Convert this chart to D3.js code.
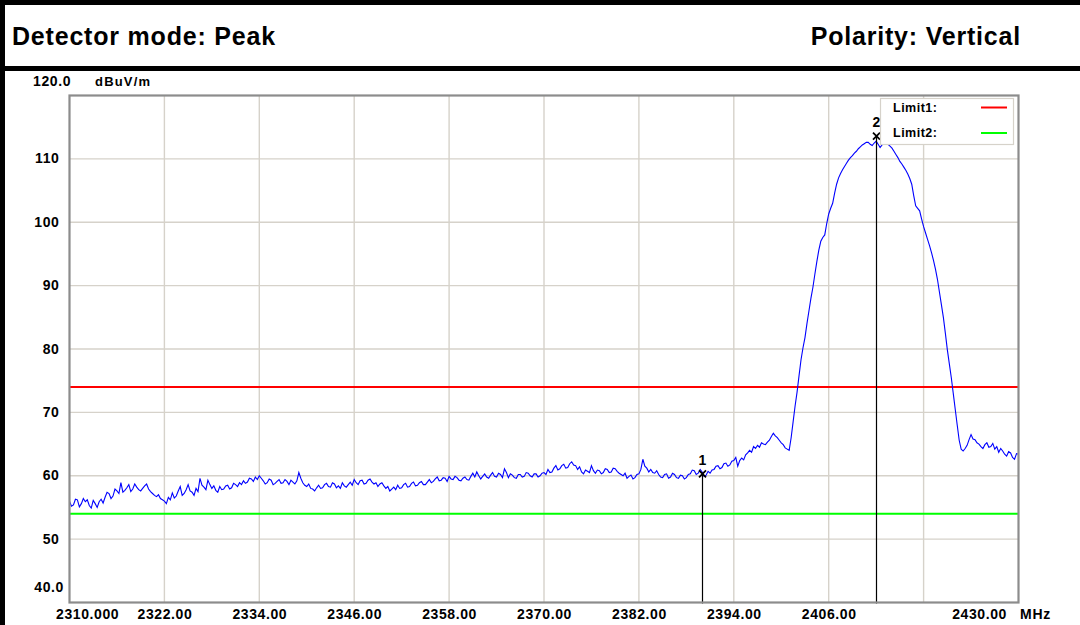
<!DOCTYPE html>
<html>
<head>
<meta charset="utf-8">
<script src="https://cdn.jsdelivr.net/npm/d3@7"></script>
<style>
  html, body { margin: 0; padding: 0; background: #fff; }
  svg { display: block; }
</style>
</head>
<body>
<script>
// ---------------- data ----------------
const headerLeft = "Detector mode: Peak";
const headerRight = "Polarity: Vertical";
const yUnit = "dBuV/m";
const xUnit = "MHz";

const freqStart = 2310;   // MHz
const freqStep = 0.25;    // MHz between trace points (one row = 1 MHz)
const levels = [
  56.0,55.2,55.4,56.3, 56.2,55.1,55.6,56.4, 55.9,56.2,55.3,54.9, 56.1,55.6,55.0,55.9, // 2310-2313
  56.3,55.7,56.6,57.4, 57.2,56.4,56.8,57.9, 57.6,57.2,58.9,57.4, 57.7,58.1,58.6,57.5, // 2314-2317
  57.9,58.7,58.2,57.8, 57.6,58.0,58.4,58.7, 57.9,57.5,57.2,56.9, 56.7,57.0,56.4,56.2, // 2318-2321
  56.0,55.6,56.6,56.2, 57.3,56.5,56.8,57.6, 58.3,56.9,57.2,57.8, 58.6,57.6,57.4,56.9, // 2322-2325
  58.0,57.5,59.6,58.5, 58.2,57.8,59.3,58.6, 58.0,58.4,57.7,57.4, 58.3,57.8,57.9,58.4, // 2326-2329
  58.5,57.9,58.1,58.8, 58.6,58.3,58.9,58.6, 59.2,58.8,59.0,59.6, 59.5,59.1,59.8,59.4, // 2330-2333
  60.0,59.6,59.2,58.7, 58.9,59.5,59.3,58.6, 58.8,59.1,59.4,58.8, 58.9,59.4,59.1,58.6, // 2334-2337
  59.3,59.0,58.7,59.2, 60.5,59.6,58.9,58.5, 58.3,58.7,58.0,57.9, 57.6,58.1,58.5,58.0, // 2338-2341
  58.1,58.6,58.8,58.3, 58.2,58.9,58.7,58.1, 58.4,58.0,58.9,58.4, 58.2,58.6,59.0,58.5, // 2342-2345
  59.4,58.9,58.6,59.2, 59.3,58.7,58.8,59.3, 59.5,59.0,58.7,58.9, 58.3,58.7,58.9,58.4, // 2346-2349
  58.0,58.3,57.6,57.9, 58.2,57.8,58.5,58.0, 58.1,58.6,58.8,58.2, 58.3,58.8,59.0,58.4, // 2350-2353
  58.5,58.9,59.1,58.6, 58.6,59.0,59.4,58.9, 59.1,59.5,59.8,59.2, 59.3,59.7,59.6,59.1, // 2354-2357
  59.9,59.5,59.4,59.9, 59.7,59.3,59.2,59.6, 59.8,59.4,59.3,59.9, 60.4,59.8,60.6,60.0, // 2358-2361
  59.5,59.9,60.3,59.8, 59.6,60.1,60.5,59.9, 59.8,60.4,60.2,59.7, 61.1,60.5,59.7,60.3, // 2362-2365
  60.1,59.7,59.6,60.2, 60.2,59.8,59.9,60.5, 60.4,60.0,59.8,60.3, 60.3,59.8,60.0,60.4, // 2366-2369
  60.5,60.2,61.0,60.5, 60.6,61.2,61.6,60.9, 61.1,61.6,61.8,61.2, 61.3,61.9,62.2,61.7, // 2370-2373
  61.6,61.0,61.4,60.6, 60.3,60.9,60.7,60.5, 61.6,60.8,60.4,60.9, 60.8,60.3,60.5,61.1, // 2374-2377
  61.0,60.5,60.6,61.2, 61.1,60.7,60.4,60.2, 60.0,60.4,59.6,59.9, 60.1,59.5,59.7,60.2, // 2378-2381
  60.3,61.0,62.6,61.5, 61.2,60.6,61.0,60.5, 60.4,60.8,60.2,59.8, 59.7,60.2,60.3,59.6, // 2382-2385
  59.8,60.4,60.2,59.7, 59.6,60.1,60.0,59.5, 59.7,60.2,60.3,60.9, 60.8,60.2,60.4,61.0, // 2386-2389
  60.6,59.9,60.1,60.7, 60.4,60.9,61.0,61.5, 61.6,61.1,61.3,61.9, 62.0,61.5,61.7,62.3, // 2390-2393
  62.4,62.9,61.5,62.4, 62.8,62.5,63.3,63.6, 64.0,63.7,64.6,64.3, 64.8,64.5,65.2,65.0, // 2394-2397
  64.9,65.3,65.6,66.2, 66.7,66.3,66.0,65.6, 65.2,64.9,64.4,64.2, 64.0,66.0,68.5,71.0, // 2398-2401
  73.2,75.8,78.3,80.2, 81.8,84.0,86.0,88.0, 89.7,91.8,93.8,95.6, 97.0,97.6,98.0,99.8, // 2402-2405
  101.3,102.2,103.0,104.6, 106.0,107.0,107.7,108.3, 108.8,109.3,109.8,110.2, 110.5,110.9,111.2,111.6, // 2406-2409
  111.9,112.2,112.4,112.6, 112.6,112.3,112.1,112.5, 112.8,112.3,111.8,112.2, 112.6,112.5,112.3,112.0, // 2410-2413
  111.7,111.2,110.7,110.2, 109.6,109.2,108.7,108.2, 107.6,106.9,106.0,104.2, 102.6,102.2,101.8,100.5, // 2414-2417
  99.3,98.3,97.3,96.3, 95.2,94.0,92.6,91.0, 89.0,87.0,85.0,82.5, 79.9,77.7,75.5,73.0, // 2418-2421
  70.5,68.0,65.6,64.2, 63.9,64.3,64.8,65.7, 66.5,65.8,65.7,65.2, 65.0,64.6,64.3,64.9, // 2422-2425
  65.2,64.5,64.6,65.1, 64.2,64.6,63.7,64.3, 63.9,63.4,63.1,63.8, 63.6,62.9,62.6,63.5, // 2426-2429
  63.4                                                                                // 2430
];

const xTickValues = [2310,2322,2334,2346,2358,2370,2382,2394,2406,2418,2430];
const xTickLabels = ["2310.000","2322.00","2334.00","2346.00","2358.00","2370.00","2382.00","2394.00","2406.00","","2430.00"];
const yTickValues = [40,50,60,70,80,90,100,110,120];
const yTickLabels = ["40.0","50","60","70","80","90","100","110","120.0"];

const limitNames = ["Limit1:","Limit2:"];
const limitValues = [74, 54];
const limitColors = ["#ff0000","#00ff00"];

const markerLabels = ["1","2"];
const markerFreqs = [2390, 2412];
const markerLevels = [60.3, 113.6];

// ---------------- layout ----------------
const W = 1080, H = 625;
const plot = {left: 69.5, right: 1018.5, top: 95.5, bottom: 602.5};
const axisFont = "'Liberation Sans', Arial, sans-serif";

const svg = d3.select("body").append("svg")
  .attr("width", W).attr("height", H)
  .style("background", "#fff");

// frame / header borders
svg.append("rect").attr("x",0).attr("y",0).attr("width",W).attr("height",5).attr("fill","#000");
svg.append("rect").attr("x",0).attr("y",0).attr("width",5).attr("height",H).attr("fill","#000");
svg.append("rect").attr("x",0).attr("y",66).attr("width",W).attr("height",5).attr("fill","#000");

svg.append("text").attr("x",12).attr("y",45)
  .attr("font-family",axisFont).attr("font-weight","bold").attr("font-size",25)
  .attr("letter-spacing","0.8px").attr("fill","#000").text(headerLeft);
svg.append("text").attr("x",1021).attr("y",45).attr("text-anchor","end")
  .attr("font-family",axisFont).attr("font-weight","bold").attr("font-size",25)
  .attr("letter-spacing","0.8px").attr("fill","#000").text(headerRight);

const x = d3.scaleLinear().domain([2310, 2430]).range([plot.left, plot.right]);
const y = d3.scaleLinear().domain([40, 120]).range([plot.bottom, plot.top]);

const gridColor = "#d6d2ca";

// x axis: labels
const xAxis = d3.axisBottom(x)
  .tickValues(xTickValues)
  .tickSize(0)
  .tickFormat((d,i) => xTickLabels[i]);
const gx = svg.append("g").attr("transform", `translate(0,${plot.bottom})`).call(xAxis);
gx.select(".domain").remove();
gx.selectAll("text")
  .attr("font-family", axisFont).attr("font-weight","bold").attr("font-size",14)
  .attr("letter-spacing","0.6px").attr("fill","#000")
  .attr("y", 0).attr("dy", null)
  .attr("transform", "translate(0,16)");
gx.selectAll(".tick").filter(d => d === 2310).select("text")
  .attr("text-anchor","start").attr("x",-14);
gx.selectAll(".tick").filter(d => d === 2430).select("text")
  .attr("text-anchor","end").attr("x",-12);

// vertical gridlines
svg.append("g").selectAll("line")
  .data(xTickValues.filter(v => v > 2310 && v < 2430))
  .join("line")
  .attr("x1", d => x(d)).attr("x2", d => x(d))
  .attr("y1", plot.top).attr("y2", plot.bottom)
  .attr("stroke", gridColor).attr("stroke-width", 1.4);

// horizontal gridlines
svg.append("g").selectAll("line")
  .data(yTickValues.filter(v => v > 40 && v < 120))
  .join("line")
  .attr("x1", plot.left).attr("x2", plot.right)
  .attr("y1", d => y(d)).attr("y2", d => y(d))
  .attr("stroke", gridColor).attr("stroke-width", 1.4);

// y axis labels
const yAxis = d3.axisLeft(y)
  .tickValues(yTickValues.filter(v => v > 40 && v < 120))
  .tickSize(0)
  .tickFormat(d => yTickLabels[yTickValues.indexOf(d)]);
const gy = svg.append("g").attr("transform", `translate(${plot.left},0)`).call(yAxis);
gy.select(".domain").remove();
gy.selectAll("text")
  .attr("font-family", axisFont).attr("font-weight","bold").attr("font-size",14)
  .attr("letter-spacing","0.6px").attr("fill","#000")
  .attr("x", -10).attr("dy", null).attr("y", 4);

// 40.0 and 120.0 special labels, units
svg.append("text").attr("x", 64).attr("y", y(40) - 11).attr("text-anchor","end")
  .attr("font-family", axisFont).attr("font-weight","bold").attr("font-size",14)
  .attr("letter-spacing","0.6px").text(yTickLabels[0]);
svg.append("text").attr("x", 33).attr("y", 86)
  .attr("font-family", axisFont).attr("font-weight","bold").attr("font-size",14)
  .attr("letter-spacing","0.6px").text(yTickLabels[yTickLabels.length-1]);
svg.append("text").attr("x", 95).attr("y", 86)
  .attr("font-family", axisFont).attr("font-weight","bold").attr("font-size",13)
  .attr("letter-spacing","1.2px").text(yUnit);
svg.append("text").attr("x", 1020).attr("y", plot.bottom + 16)
  .attr("font-family", axisFont).attr("font-weight","bold").attr("font-size",14)
  .attr("letter-spacing","0.8px").text(xUnit);

// limit lines
svg.append("g").selectAll("line")
  .data(limitValues)
  .join("line")
  .attr("x1", plot.left).attr("x2", plot.right)
  .attr("y1", d => y(d)).attr("y2", d => y(d))
  .attr("stroke", (d,i) => limitColors[i]).attr("stroke-width", 2);

// trace
const tracePts = levels.map((v,i) => [freqStart + i*freqStep, v]);
const line = d3.line().x(d => x(d[0])).y(d => y(d[1]));
svg.append("path").datum(tracePts)
  .attr("d", line).attr("fill","none")
  .attr("stroke","#0000ff").attr("stroke-width",1.1)
  .attr("stroke-linejoin","miter");

// markers: vertical line, cross symbol, number
markerFreqs.forEach((f,i) => {
  const px = Math.round(x(f)) + 0.5, py = y(markerLevels[i]);
  svg.append("line").attr("x1",px).attr("x2",px)
    .attr("y1", py).attr("y2", plot.bottom + 1)
    .attr("stroke","#000").attr("stroke-width",1.2);
  svg.append("path")
    .attr("d", `M${px-3.5},${py-3.5}L${px+3.5},${py+3.5}M${px+3.5},${py-3.5}L${px-3.5},${py+3.5}`)
    .attr("stroke","#000").attr("stroke-width",1.8).attr("fill","none");
  svg.append("text").attr("x",px).attr("y",py - 9).attr("text-anchor","middle")
    .attr("font-family", axisFont).attr("font-weight","bold").attr("font-size",14)
    .text(markerLabels[i]);
});

// plot frame
svg.append("rect")
  .attr("x", plot.left).attr("y", plot.top)
  .attr("width", plot.right - plot.left).attr("height", plot.bottom - plot.top)
  .attr("fill","none").attr("stroke","#8c8c8c").attr("stroke-width",2.2);

// legend
const lg = svg.append("g");
lg.append("rect").attr("x",880.5).attr("y",98.5).attr("width",133).attr("height",46)
  .attr("fill","#fff").attr("stroke","#d6d2ca").attr("stroke-width",1.2);
limitNames.forEach((n,i) => {
  const ly = 107.5 + i*25.5;
  lg.append("text").attr("x",893).attr("y",ly + 4)
    .attr("font-family", axisFont).attr("font-weight","bold").attr("font-size",12.5)
    .attr("letter-spacing","0.5px").text(n);
  lg.append("line").attr("x1",981).attr("x2",1007).attr("y1",ly).attr("y2",ly)
    .attr("stroke",limitColors[i]).attr("stroke-width",2);
});
</script>
</body>
</html>
